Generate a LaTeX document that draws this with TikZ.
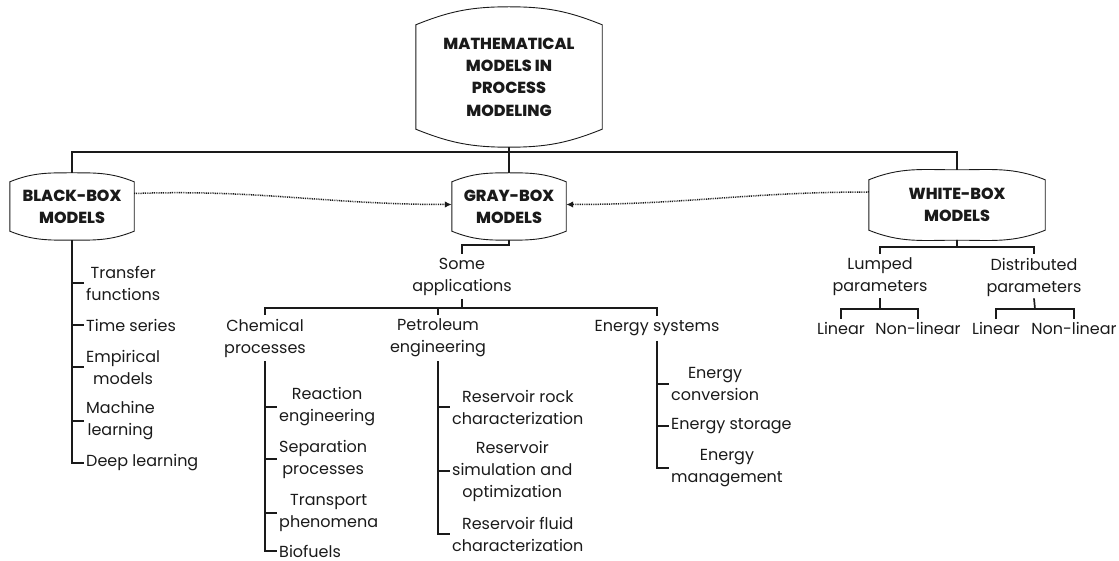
\documentclass[tikz,border=0pt]{standalone}
\usepackage{fontspec}
\setmainfont{Poppins}[BoldFont={* Bold}]
\newfontfamily\heavy{Poppins}[UprightFont={* ExtraBold}]
\usetikzlibrary{calc,arrows.meta}
\definecolor{txt}{HTML}{1A1A1A}
\newcommand\bulge[2]{%
  \draw[boxline] ($(#1.north west)+(0,#2)$) to[out=22,in=180] (#1.north)
    to[out=0,in=158] ($(#1.north east)+(0,#2)$) -- ($(#1.south east)+(0,-#2)$)
    to[out=-158,in=0] (#1.south) to[out=180,in=-22] ($(#1.south west)+(0,-#2)$) -- cycle;}
\begin{document}
\begin{tikzpicture}[x=1pt,y=-1pt,
  lbl/.style={font=\fontsize{16}{22}\selectfont, align=center, inner xsep=2pt, inner ysep=0pt, text=txt},
  bx/.style={font=\heavy\fontsize{16}{22.3}\selectfont, align=center, inner sep=0pt, text=txt},
  boxline/.style={line width=0.9pt, draw=txt},
  br/.style={line width=1.7pt, draw=txt},
  dotarrow/.style={line width=1.5pt, draw=txt, dash pattern=on 0.9pt off 0.9pt, -{Latex[length=7pt,width=6.5pt]}},
]
\useasboundingbox (0,0) rectangle (1119,561);

% boxes
\node[bx, minimum width=186pt, minimum height=140pt] (top) at (509,77) {MATHEMATICAL\\MODELS IN\\PROCESS\\MODELING};
\node[bx, minimum width=124pt, minimum height=67pt] (bb) at (72,206.5) {BLACK-BOX\\MODELS};
\node[bx, minimum width=114pt, minimum height=67pt] (gb) at (509,206.5) {GRAY-BOX\\MODELS};
\node[bx, minimum width=176pt, minimum height=70pt] (wb) at (957,205) {WHITE-BOX\\MODELS};
\bulge{top}{18}
\bulge{bb}{9}
\bulge{gb}{9}
\bulge{wb}{10}

% top tree
\coordinate (hub) at (509,152);
\draw[br] (top.south) -- (gb.north);
\draw[br] (bb.north) -- (bb.north |- hub) -- (wb.north |- hub) -- (wb.north);

% dotted arrows
\draw[dotarrow] ($(bb.east)+(0,-13)$) to[out=2,in=180] ($(gb.west)+(0,-2)$);
\draw[dotarrow] ($(wb.west)+(0,-13)$) to[out=180,in=0] ($(gb.east)+(0,-2)$);

% black-box children
\node[lbl, anchor=west] (b1) at (84,283) {Transfer\\functions};
\node[lbl, anchor=west] (b2) at (84,325) {Time series};
\node[lbl, anchor=west] (b3) at (84,367) {Empirical\\models};
\node[lbl, anchor=west] (b4) at (84,421) {Machine\\learning};
\node[lbl, anchor=west] (b5) at (84,463) {Deep learning};
\draw[br] (bb.south) -- (b5.west -| bb.south) -- (b5.west);
\foreach \n in {b1,b2,b3,b4} \draw[br] (\n.west -| bb.south) -- (\n.west);

% gray-box children
\node[lbl] (sa) at (462,277) {Some\\applications};
\draw[br] (gb.south) -- ++(0,5) -| ($(sa.north)+(0,-4)$);
\coordinate (ah) at (462,308);
\node[lbl] (cp) at (265,338) {Chemical\\processes};
\node[lbl] (pe) at (438,338) {Petroleum\\engineering};
\node[lbl] (es) at (657,328) {Energy systems};
\draw[br] ($(sa.south)+(0,3)$) -- (ah);
\draw[br] ($(cp.north)+(0,-4)$) |- (ah) -| ($(es.north)+(0,-4)$);
\draw[br] ($(pe.north)+(0,-4)$) -- (pe.north |- ah);

\node[lbl, anchor=west] (c1) at (277,407) {Reaction\\engineering};
\node[lbl, anchor=west] (c2) at (277,459) {Separation\\processes};
\node[lbl, anchor=west] (c3) at (277,513) {Transport\\phenomena};
\node[lbl, anchor=west] (c4) at (277,551) {Biofuels};
\draw[br] ($(cp.south)+(0,4)$) -- (c4.west -| cp.south) -- (c4.west);
\foreach \n in {c1,c2,c3} \draw[br] (\n.west -| cp.south) -- (\n.west);

\node[lbl, anchor=west] (p1) at (450,407) {Reservoir rock\\characterization};
\node[lbl, anchor=west] (p2) at (450,471) {Reservoir\\simulation and\\optimization};
\node[lbl, anchor=west] (p3) at (450,534) {Reservoir fluid\\characterization};
\draw[br] ($(pe.south)+(0,4)$) -- (p3.west -| pe.south) -- (p3.west);
\foreach \n in {p1,p2} \draw[br] (\n.west -| pe.south) -- (\n.west);

\node[lbl, anchor=west] (e1) at (669,384) {Energy\\conversion};
\node[lbl, anchor=west] (e2) at (669,426) {Energy storage};
\node[lbl, anchor=west] (e3) at (669,468) {Energy\\management};
\draw[br] ($(es.south)+(0,5)$) -- (e3.west -| es.south) -- (e3.west);
\foreach \n in {e1,e2} \draw[br] (\n.west -| es.south) -- (\n.west);

% white-box children
\coordinate (wh) at (957,247);
\node[lbl] (lp) at (880,277) {Lumped\\parameters};
\node[lbl] (dp) at (1034,277) {Distributed\\parameters};
\draw[br] (wb.south) -- (wh);
\draw[br] ($(lp.north)+(0,-4)$) |- (wh) -| ($(dp.north)+(0,-4)$);

\coordinate (lh) at (880,309);
\coordinate (dh) at (1035,309);
\node[lbl] (l1) at (841,328) {Linear};
\node[lbl] (l2) at (918,328) {Non-linear};
\node[lbl] (d1) at (996,328) {Linear};
\node[lbl] (d2) at (1074,328) {Non-linear};
\draw[br] ($(lp.south)+(0,2)$) -- (lh);
\draw[br] ($(l1.north)+(0,-3)$) |- (lh) -| ($(l2.north)+(0,-3)$);
\draw[br] ($(dp.south)+(0,2)$) -- (dh);
\draw[br] ($(d1.north)+(0,-3)$) |- (dh) -| ($(d2.north)+(0,-3)$);
\end{tikzpicture}
\end{document}
